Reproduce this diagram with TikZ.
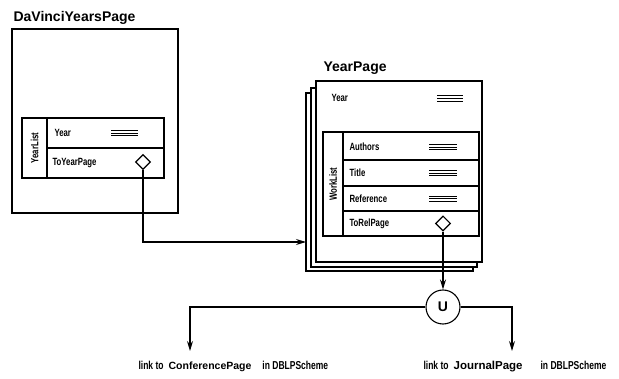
\documentclass[tikz,border=0pt]{standalone}
\usepackage{fontspec}
\setmainfont{Liberation Sans}
\newfontfamily\condfont[FakeStretch=0.74]{Liberation Sans}

\usetikzlibrary{arrows.meta,positioning,calc,shapes.geometric}

\begin{document}
\begin{tikzpicture}[x=1pt,y=-1pt,>={Stealth[length=10pt,width=6pt]},line width=1.1pt,
      title/.style={anchor=west,inner sep=0pt,font=\fontsize{14}{16}\selectfont\bfseries},
      field/.style={anchor=west,inner sep=0pt,font=\condfont\fontsize{10.5}{11}\selectfont\bfseries},
      page/.style={draw=black,fill=white},
      ref/.style={diamond,draw=black,fill=white,inner sep=0pt,minimum size=15pt},
      union/.style={circle,draw=black,fill=white,inner sep=0pt,minimum size=34pt,font=\fontsize{14}{14}\selectfont\bfseries},
      linklbl/.style={anchor=base west,inner sep=0pt,font=\condfont\fontsize{11.5}{12}\selectfont\bfseries}]
      \useasboundingbox (0,0) rectangle (619,379);
      % DaVinciYearsPage
      \node[title] (dvtitle) at (13,18) {DaVinciYearsPage};
      \draw[page] (12,29) rectangle (178,213);
      \draw (22,118) rectangle (164,178);
      \draw (47,118) -- (47,178);
      \draw (47,148) -- (164,148);
      \node[field,rotate=90,anchor=center] (yearlist) at (34.5,148) {YearList};
      \node[field] (dvyear) at (54,133) {Year};
      \node[field] (dvlink) at (52,163) {ToYearPage};
      \foreach \yy in {-2.5,0,2.5}
        \draw[line width=0.9pt] (111,133+\yy) -- (138,133+\yy);
      \node[ref] (dvref) at (143,162) {};
      % YearPage
      \node[title] (yptitle) at (323,68) {YearPage};
      \draw[page] (306,93) rectangle (473,271);
      \draw[page] (311,88) rectangle (477,267);
      \draw[page] (316,81) rectangle (482,262);
      \node[field] (ypyear) at (331,98) {Year};
      \foreach \yy in {-3,0,3}
        \draw[line width=0.9pt] (437,98+\yy) -- (463,98+\yy);
      \draw (323,132) rectangle (479,236);
      \draw (343,132) -- (343,236);
      \draw (343,160) -- (479,160);
      \draw (343,186) -- (479,186);
      \draw (343,211) -- (479,211);
      \node[field,rotate=90,anchor=center] (worklist) at (333,184) {WorkList};
      \node[field] (authors) at (349,147) {Authors};
      \node[field] (wtitle) at (349,173) {Title};
      \node[field] (wref) at (349,198.5) {Reference};
      \node[field] (wlink) at (349,223.5) {ToRelPage};
      \foreach \yr in {147,173,198.5}
        \foreach \yy in {-2.5,0,2.5}
          \draw[line width=0.9pt] (429,\yr+\yy) -- (457,\yr+\yy);
      \node[ref] (ypref) at (443,223.5) {};
      % links
      \coordinate (ypin) at (306,242);
      \draw[->] (dvref.south) |- (ypin);
      \node[union] (u) at (443,307) {U};
      \draw[->] (ypref.south) -- (u.north);
      \coordinate (confin) at (190,351);
      \coordinate (jourin) at (512,351);
      \draw[->] (u.west) -| (confin);
      \draw[->] (u.east) -| (jourin);
      \node[linklbl] (conflbl) at (138,370) {link to\hspace{5pt}{\normalfont\bfseries\fontsize{10.5}{12}\selectfont ConferencePage}\hspace{11pt}in DBLPScheme};
      \node[linklbl] (jourlbl) at (423,370) {link to\hspace{5pt}{\normalfont\bfseries\fontsize{11.5}{12}\selectfont JournalPage}\hspace{18pt}in DBLPScheme};
    \end{tikzpicture}
\end{document}
